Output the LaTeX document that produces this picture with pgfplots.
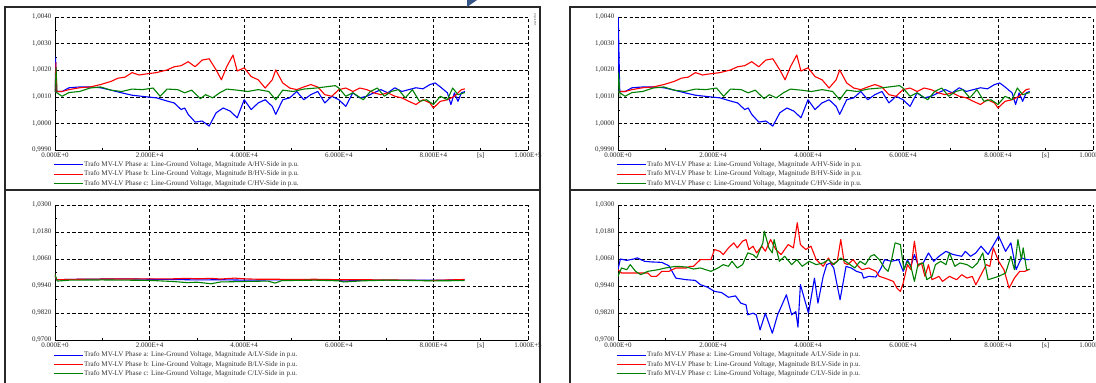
\documentclass[border=0pt]{standalone}
\usepackage{pgfplots}
\pgfplotsset{compat=1.18}
\usepackage{pgfplotstable}
\usepackage{fontspec}
\setmainfont{Liberation Serif}

\definecolor{pfblue}{RGB}{0,0,255}
\definecolor{pfred}{RGB}{255,0,0}
\definecolor{pfgreen}{RGB}{0,128,0}
\definecolor{framecol}{RGB}{40,40,40}
\definecolor{tricol}{RGB}{55,85,135}

% ---------- HV side (top panels) ----------
\pgfplotstableread{
t v
0 1.0012
1500 1.0012
2960 1.00134
5190 1.00137
7400 1.00137
9630 1.00134
11850 1.00125
14070 1.00115
16300 1.00106
19260 1.00100
21480 1.00096
23700 1.00084
25190 1.00077
26670 1.00052
27410 1.00058
28150 1.00034
29630 1.00005
31110 1.00009
32590 0.99990
34070 1.00040
35560 1.00058
37040 1.00046
38520 1.00021
40000 1.00089
41480 1.00052
42960 1.00077
44440 1.00089
45930 1.00064
46670 1.00034
48150 1.00089
49630 1.00096
51110 1.00120
52590 1.00089
54070 1.00108
55560 1.00120
57040 1.00077
58520 1.00102
60000 1.00089
61480 1.00064
62960 1.00115
64440 1.00096
65930 1.00102
67410 1.00115
68890 1.00127
70370 1.00115
71850 1.00134
73330 1.00120
74810 1.00127
76300 1.00134
77780 1.00130
79260 1.00146
80370 1.00152
81480 1.00137
82960 1.00115
83700 1.00071
84440 1.00115
85190 1.00083
85930 1.00115
86670 1.00120
}\hvA
\pgfplotstableread{
t v
0 1.0012
1500 1.0012
2960 1.00127
5190 1.00134
7400 1.00137
9630 1.00146
11850 1.00158
13330 1.00170
14810 1.00174
16300 1.00191
17780 1.00182
19260 1.00186
21480 1.00191
23700 1.00201
25190 1.00213
26670 1.00217
28150 1.00232
29630 1.00213
31110 1.00238
32590 1.00243
34070 1.00201
35180 1.00164
36300 1.00213
37630 1.00257
38520 1.00197
40000 1.00209
41480 1.00176
42960 1.00164
44440 1.00133
45930 1.00164
46670 1.00201
48150 1.00152
49630 1.00133
51110 1.00127
52590 1.00137
54070 1.00146
55560 1.00137
57040 1.00108
58520 1.00102
60000 1.00127
61480 1.00133
62960 1.00120
64440 1.00133
65930 1.00127
67410 1.00115
68890 1.00108
70370 1.00115
71850 1.00102
73330 1.00096
74810 1.00083
76300 1.00071
77780 1.00089
79260 1.00077
80000 1.00058
81480 1.00083
82960 1.00089
84440 1.00102
85930 1.00127
86670 1.00130
}\hvB
\pgfplotstableread{
t v
0 1.0012
1480 1.00102
2960 1.00116
5190 1.00120
7400 1.00133
9630 1.00137
11850 1.00125
14070 1.00120
16300 1.00129
18520 1.00127
20740 1.00133
22220 1.00102
23700 1.00129
25930 1.00127
27410 1.00115
28890 1.00125
30740 1.00093
31850 1.00108
33330 1.00096
34810 1.00115
36300 1.00129
38520 1.00125
40740 1.00120
42960 1.00127
45190 1.00120
46670 1.00089
48150 1.00125
50370 1.00120
52590 1.00129
55190 1.00133
57040 1.00137
59260 1.00142
60000 1.00133
61480 1.00102
62960 1.00115
65190 1.00089
66670 1.00120
68150 1.00133
69630 1.00102
71110 1.00120
72590 1.00127
74070 1.00096
75560 1.00127
77040 1.00083
78520 1.00089
80000 1.00071
81480 1.00102
82960 1.00089
84070 1.00133
85190 1.00108
86670 1.00116
}\hvC

% ---------- LV side, left panel ----------
\pgfplotstableread{
t v
0 0.9985
300 0.9968
5000 0.9970
10000 0.9971
15000 0.9972
20000 0.9970
25000 0.9969
30000 0.9967
35000 0.9968
40000 0.9966
45000 0.9967
50000 0.9968
55000 0.9967
60000 0.9966
61000 0.9962
65000 0.9966
70000 0.9966
75000 0.9966
80000 0.9966
86600 0.9967
}\lvlA
\pgfplotstableread{
t v
0 0.9990
300 0.9968
5000 0.9970
10000 0.9971
15000 0.9971
20000 0.9972
25000 0.9972
28000 0.9974
30000 0.9972
33000 0.9974
35000 0.9971
38000 0.9975
40000 0.9972
43000 0.9970
47000 0.9970
50000 0.9969
55000 0.9970
60000 0.9968
65000 0.9968
70000 0.9967
75000 0.9966
79000 0.9964
80000 0.9965
86600 0.9969
}\lvlB
\pgfplotstableread{
t v
0 0.9990
500 0.9962
3000 0.9966
10000 0.9967
20000 0.9965
25000 0.9960
28000 0.9955
30000 0.9957
33000 0.9950
35000 0.9958
40000 0.9960
45000 0.9962
46500 0.9953
48000 0.9964
55000 0.9966
60000 0.9963
61000 0.9958
65000 0.9963
70000 0.9966
80000 0.9963
86600 0.9964
}\lvlC

% ---------- LV side, right panel ----------
\pgfplotstableread{
t v
0 1.0013
500 1.0060
1850 1.0054
3320 1.0060
4060 1.0065
5540 1.0050
7020 1.0047
9230 1.0045
10710 1.0030
12190 0.9975
14400 0.9968
16250 0.9965
17360 0.9946
18830 0.9935
20310 0.9916
21790 0.9911
23260 0.9890
24740 0.9896
25850 0.9864
26960 0.9856
27320 0.9812
28430 0.9819
29100 0.9812
29910 0.9745
31020 0.9819
32490 0.9730
33600 0.9812
35450 0.9901
36560 0.9812
37440 0.9826
37890 0.9757
38400 0.9946
40100 0.9819
41360 0.9975
42090 0.9864
43200 0.9983
43940 1.0035
44680 1.0042
45420 1.0020
46750 0.9879
48000 1.0027
49110 1.0020
50220 1.0005
51330 0.9998
51700 0.9975
52800 0.9983
54280 0.9980
55390 1.0020
56130 1.0057
57600 1.0050
59080 1.0057
60040 1.0005
60930 1.0057
61660 1.0027
62400 1.0080
63140 1.0035
64250 1.0042
65360 1.0087
66470 1.0050
67570 1.0072
69050 1.0094
70530 1.0080
72370 1.0072
73110 1.0094
74220 1.0072
75330 1.0087
76430 1.0117
77910 1.0080
80130 1.0162
81600 1.0094
82710 1.0132
83820 1.0013
84930 1.0065
86030 1.0057
86630 1.0057
}\lvrA
\pgfplotstableread{
t v
0 1.0013
740 0.99977
6280 0.99977
7020 0.99828
8120 0.99828
9230 1.00052
10710 1.00052
12190 1.00201
14400 1.00201
15140 1.00275
15880 1.00275
16620 1.00424
17350 1.00573
19570 1.00573
20310 1.01020
21420 1.00945
22160 1.00796
23260 1.01094
24370 1.01317
25110 1.01094
26220 1.01392
26960 1.01466
27550 1.01020
28430 1.01169
29170 1.00871
30280 1.01169
31020 1.00945
32120 1.01466
33230 1.01020
34340 1.00796
35820 1.01243
36930 1.01094
37740 1.02211
38400 1.01243
39510 1.01020
40620 1.01169
41730 1.00573
43200 1.00275
44310 1.00647
45050 1.00350
46160 1.00498
46900 1.01466
47630 1.00424
48370 1.00350
49480 1.00573
50590 1.00275
51330 1.00126
52800 1.00201
54280 1.00052
55020 0.99828
56130 0.99754
57970 0.99605
58710 0.99307
59450 0.99158
60040 0.99531
60930 1.00350
61660 1.00126
62400 1.01392
63140 1.00275
63880 1.00424
64620 0.99828
65360 1.00350
66100 0.99680
67570 0.99828
68310 0.99605
69790 0.99828
71270 0.99680
72370 0.99903
73480 0.99754
74590 0.99828
75330 0.99456
76430 0.99903
77540 1.00350
78280 1.00275
79020 1.01094
80130 1.00498
81240 1.00126
82340 0.99307
83450 0.99754
84560 1.00052
85670 1.00052
86630 1.00156
}\lvrB
\pgfplotstableread{
t v
0 0.9983
740 1.00201
1850 1.00126
2580 1.00350
3690 1.00052
4800 0.99903
6280 1.00052
8490 1.00126
9970 1.00201
12190 1.00275
14400 1.00245
15880 1.00156
17350 1.00201
19570 1.00052
21050 1.00201
22160 1.00350
23260 1.00275
24000 1.00498
25110 1.00201
26220 1.00350
27320 1.00871
28430 1.00796
29170 1.00647
30500 1.01317
30800 1.01839
31760 1.01094
32490 1.00871
32860 1.01466
33970 1.00498
35080 1.00722
36560 1.00350
37660 1.00573
38770 1.00275
40250 1.00498
41730 1.00350
43200 1.00424
44310 1.00573
45420 1.00350
46900 1.00647
48370 1.00424
49850 1.00201
50960 1.00498
52060 1.00350
53170 1.00722
53910 1.00796
55020 1.00573
56130 1.00201
56860 1.00052
57600 1.00573
58340 1.01317
59450 1.01243
60190 1.00126
60930 1.00498
61660 1.00275
62400 0.99605
63140 1.00350
64250 1.00424
64990 0.99680
66100 0.99828
66830 1.00350
67940 1.00498
69050 1.00350
69790 1.00871
70900 1.00275
72000 1.00424
73480 1.00350
74590 1.00201
75700 1.00424
76800 1.00871
77910 0.99680
79020 0.99754
80130 0.99828
81600 0.99977
82710 1.00722
83450 1.00126
84190 1.01466
84930 1.00573
85300 1.01094
86030 1.00126
86630 1.00126
}\lvrC

\pgfplotsset{
  pfaxis/.style={
    scale only axis,
    width=473pt, height=133pt,
    xmin=0, xmax=100000,
    axis x line*=bottom, axis y line*=left,
    axis line style={black, line width=0.8pt, -},
    xtick={0,20000,40000,60000,80000,100000},
    xticklabels={0.000E+0,2.000E+4,4.000E+4,6.000E+4,8.000E+4,1.000E+5},
    minor x tick num=1, minor y tick num=1,
    extra x ticks={90000}, extra x tick labels={[s]},
    extra x tick style={grid=none},
    grid=major,
    major grid style={black, line width=0.6pt, dash pattern=on 3.6pt off 2.2pt},
    tick align=inside, major tick length=0pt, minor tick length=2pt,
    tick style={black, line width=0.5pt},
    ticklabel style={font=\fontsize{7}{8}\selectfont, text=black!85},
    xticklabel style={yshift=1pt},
    scaled x ticks=false, scaled y ticks=false,
    legend style={at={(-0.004,-0.08)}, anchor=north west, draw=none, fill=none,
      font=\fontsize{7.1}{7.5}\selectfont, text=black!80, row sep=1.2pt,
      inner sep=0pt, nodes={inner sep=0.8pt},
      /tikz/every even column/.append style={column sep=4pt}},
    legend cell align=left,
    legend image code/.code={\draw[#1, line width=1.1pt] (0pt,0pt) -- (29pt,0pt);},
    every axis plot/.append style={line width=1.1pt, line join=round},
  },
  hvaxis/.style={pfaxis, ymin=0.999, ymax=1.004,
    ytick={0.999,1.000,1.001,1.002,1.003,1.004},
    yticklabels={{0,9990},{1,0000},{1,0010},{1,0020},{1,0030},{1,0040}}},
  lvaxis/.style={pfaxis, ymin=0.970, ymax=1.030, height=135pt,
    ytick={0.970,0.982,0.994,1.006,1.018,1.030},
    yticklabels={{0,9700},{0,9820},{0,9940},{1,0060},{1,0180},{1,0300}}},
}

\begin{document}
\begin{tikzpicture}
\useasboundingbox (0pt,0pt) rectangle (1096pt,-383pt);

% frames
\draw[framecol, line width=1.4pt] (5pt,-7pt) rectangle (540pt,-400pt);
\draw[framecol, line width=1.2pt] (5pt,-190pt) -- (540pt,-190pt);
\draw[framecol, line width=1.4pt] (570pt,-7pt) rectangle (1110pt,-400pt);
\draw[framecol, line width=1.2pt] (570pt,-190pt) -- (1110pt,-190pt);
\fill[tricol] (467pt,0pt) -- (477pt,0pt) -- (467pt,-7pt) -- cycle;
\node[rotate=-90, font=\fontsize{2.5}{3}\selectfont, text=black!80] at (535pt,-20pt) {DIgSILENT};

% top left
\begin{axis}[hvaxis, at={(55pt,-150pt)}, anchor=south west]
\addplot[pfblue] table[x=t,y=v] {\hvA};
\addplot[pfred] table[x=t,y=v] {\hvB};
\addplot[pfgreen] table[x=t,y=v] {\hvC};
\addplot[pfblue, forget plot, line width=0.8pt] coordinates {(0,1.0012) (150,1.0025) (350,1.0012)};
\addplot[pfred, forget plot, line width=0.8pt] coordinates {(0,1.0012) (200,1.0023) (400,1.0012)};
\addplot[pfgreen, forget plot, line width=0.8pt] coordinates {(0,1.0012) (250,1.0021) (450,1.0012)};
\legend{{Trafo MV-LV Phase a: Line-Ground Voltage, Magnitude A/HV-Side in p.u.},
        {Trafo MV-LV Phase b: Line-Ground Voltage, Magnitude B/HV-Side in p.u.},
        {Trafo MV-LV Phase c: Line-Ground Voltage, Magnitude C/HV-Side in p.u.}}
\end{axis}

% top right
\begin{axis}[hvaxis, at={(618pt,-150pt)}, anchor=south west, width=475pt]
\addplot[pfblue] table[x=t,y=v] {\hvA};
\addplot[pfred] table[x=t,y=v] {\hvB};
\addplot[pfgreen] table[x=t,y=v] {\hvC};
\addplot[pfblue, forget plot, line width=0.8pt] coordinates {(0,1.0012) (80,1.0040) (400,1.0012)};
\addplot[pfgreen, forget plot, line width=0.8pt] coordinates {(0,1.0012) (120,1.0019) (450,1.0010)};
\legend{{Trafo MV-LV Phase a: Line-Ground Voltage, Magnitude A/HV-Side in p.u.},
        {Trafo MV-LV Phase b: Line-Ground Voltage, Magnitude B/HV-Side in p.u.},
        {Trafo MV-LV Phase c: Line-Ground Voltage, Magnitude C/HV-Side in p.u.}}
\end{axis}

% bottom left
\begin{axis}[lvaxis, at={(55pt,-340pt)}, anchor=south west]
\addplot[pfblue] table[x=t,y=v] {\lvlA};
\addplot[pfred] table[x=t,y=v] {\lvlB};
\addplot[pfgreen] table[x=t,y=v] {\lvlC};
\legend{{Trafo MV-LV Phase a: Line-Ground Voltage, Magnitude A/LV-Side in p.u.},
        {Trafo MV-LV Phase b: Line-Ground Voltage, Magnitude B/LV-Side in p.u.},
        {Trafo MV-LV Phase c: Line-Ground Voltage, Magnitude C/LV-Side in p.u.}}
\end{axis}

% bottom right
\begin{axis}[lvaxis, at={(618pt,-340pt)}, anchor=south west, width=475pt]
\addplot[pfblue] table[x=t,y=v] {\lvrA};
\addplot[pfred] table[x=t,y=v] {\lvrB};
\addplot[pfgreen] table[x=t,y=v] {\lvrC};
\legend{{Trafo MV-LV Phase a: Line-Ground Voltage, Magnitude A/LV-Side in p.u.},
        {Trafo MV-LV Phase b: Line-Ground Voltage, Magnitude B/LV-Side in p.u.},
        {Trafo MV-LV Phase c: Line-Ground Voltage, Magnitude C/LV-Side in p.u.}}
\end{axis}
\end{tikzpicture}
\end{document}
